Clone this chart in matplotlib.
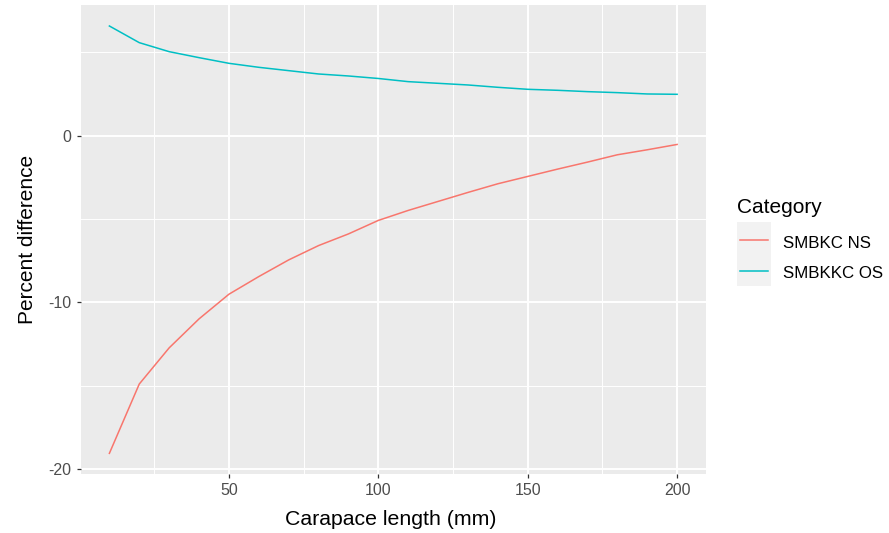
import matplotlib
matplotlib.use("Agg")
import matplotlib.pyplot as plt
from matplotlib.lines import Line2D
from matplotlib.patches import Rectangle

plt.rcParams["font.family"] = ["Liberation Sans", "DejaVu Sans"]
plt.rcParams["axes.unicode_minus"] = False

# values
length = [10, 20, 30, 40, 50, 60, 70, 80, 90, 100,
          110, 120, 130, 140, 150, 160, 170, 180, 190, 200]
smbkc_ns = [-19.06, -14.90, -12.73, -10.99, -9.51, -8.45, -7.45, -6.59, -5.89, -5.08,
            -4.48, -3.94, -3.40, -2.88, -2.44, -2.00, -1.58, -1.14, -0.84, -0.52]
smbkkc_os = [6.59, 5.59, 5.05, 4.69, 4.35, 4.11, 3.91, 3.71, 3.59, 3.44,
             3.25, 3.15, 3.05, 2.91, 2.79, 2.73, 2.65, 2.59, 2.51, 2.49]
categories = ["SMBKC NS", "SMBKKC OS"]
colors = ["#F8766D", "#00BFC4"]
x_ticks = [50, 100, 150, 200]
y_ticks = [-20, -10, 0]

W, H = 889, 533


def fx(px):
    return px / W


def fy(py):
    return 1 - py / H


fig = plt.figure(figsize=(W / 100, H / 100), dpi=100)
ax = fig.add_axes([fx(81), fy(474), (705.5 - 81) / W, (474 - 5) / H])
ax.set_facecolor("#EBEBEB")

for s in ax.spines.values():
    s.set_visible(False)

ax.set_xlim(0.5, 209.5)
ax.set_ylim(-20.3, 7.85)
ax.set_xticks(x_ticks)
ax.set_yticks(y_ticks)
ax.set_xticks([25, 75, 125, 175], minor=True)
ax.set_yticks([-15, -5, 5], minor=True)
ax.grid(which="major", color="white", linewidth=1.4)
ax.grid(which="minor", color="white", linewidth=0.7)
ax.set_axisbelow(True)
ax.tick_params(which="major", length=3.2, width=0.9, color="#333333",
               labelcolor="#4D4D4D", labelsize=11.5, pad=3.5)
ax.tick_params(which="minor", length=0)

ax.plot(length, smbkc_ns, color=colors[0], linewidth=1.1)
ax.plot(length, smbkkc_os, color=colors[1], linewidth=1.1)

fig.text(fx(391), fy(525), "Carapace length (mm)", ha="center", va="baseline",
         fontsize=15.3, color="black")
fig.text(fx(28), fy(239), "Percent difference", ha="center", va="center",
         rotation=90, fontsize=15, color="black")

# legend, drawn the ggplot way
fig.text(fx(737), fy(213), "Category", ha="left", va="baseline", fontsize=15)
fig.add_artist(Rectangle((fx(737), fy(286)), 34 / W, 64 / H,
                         transform=fig.transFigure, facecolor="#F2F2F2",
                         edgecolor="none"))
for i, (lab, c) in enumerate(zip(categories, colors)):
    yy = 240 + i * 31
    fig.add_artist(Line2D([fx(740), fx(768)], [fy(yy), fy(yy)],
                          transform=fig.transFigure, color=c, linewidth=1.1))
    fig.text(fx(783), fy(yy + 7.5), lab, ha="left", va="baseline", fontsize=12.2)

fig.savefig("out.png", dpi=100)
